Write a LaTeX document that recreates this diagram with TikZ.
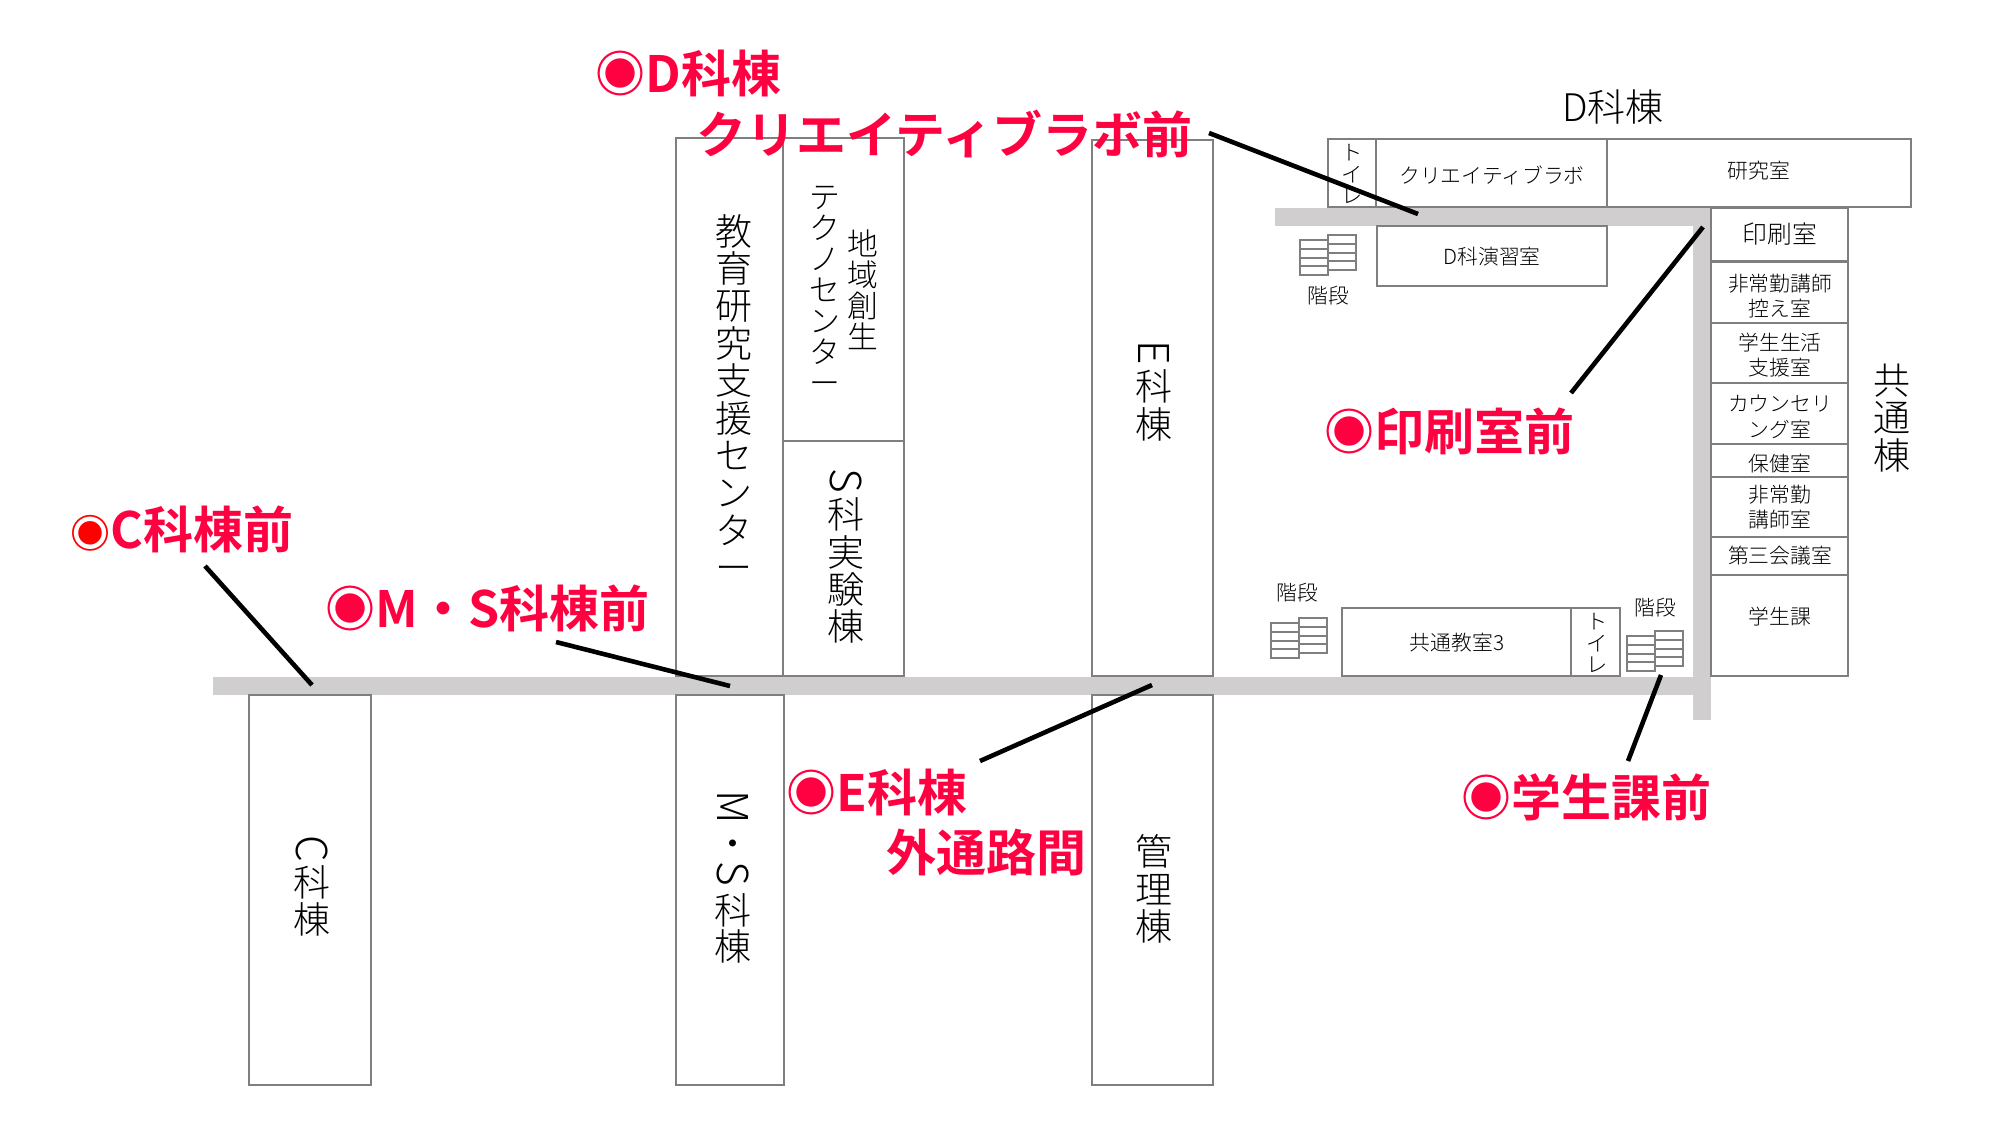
\documentclass[tikz,border=0pt]{standalone}
\usepackage{fontspec}
\setmainfont{Noto Sans CJK JP}[UprightFont=* Light,BoldFont=* Bold]
\usepackage{xcolor}
\usetikzlibrary{positioning}
\definecolor{mapgrey}{HTML}{7F7F7F}
\definecolor{mappath}{HTML}{D0CECE}
\definecolor{mapred}{HTML}{FF0041}
\definecolor{mapink}{HTML}{000000}
\newcommand{\sidew}[1]{\rotatebox[origin=c]{-90}{\scalebox{1.15}{#1}}}
\newcommand{\stackfont}[2]{\fontsize{#1}{#2}\selectfont\setlength{\lineskiplimit}{-20pt}}
\tikzset{
  wall/.style={draw=mapgrey,line width=1pt},
  hall/.style={fill=mappath},
  leader/.style={draw=mapink,line width=2.3pt},
  room/.style={font=\stackfont{10.4}{12.8},align=center},
  bigstack/.style={font=\stackfont{18.5}{18.7},align=center},
  midstack/.style={font=\stackfont{15.4}{15.5},align=center},
  tinystack/.style={font=\stackfont{10.6}{10.8},align=center},
  spot/.style={font=\fontsize{25}{25}\selectfont\bfseries,text=mapred,anchor=west},
  stairs/.pic={
    \foreach \i in {0,...,3} {
      \draw[wall] (0,5+\i*8.75) rectangle (28,13.75+\i*8.75);
      \draw[wall] (28,\i*8.75) rectangle (56,8.75+\i*8.75);
    }
  }
}
\begin{document}
\begin{tikzpicture}[x=0.5pt,y=-0.5pt,every node/.style={inner sep=0pt,text=mapink}]
  \useasboundingbox (0,0) rectangle (2000,1125);
  \fill[white] (0,0) rectangle (2000,1125);

  \fill[hall] (213,677) rectangle (1711,695);
  \fill[hall] (1693,208) rectangle (1711,720);
  \fill[hall] (1275,208) rectangle (1711,226);

  \draw[wall] (676,138) rectangle (783,676);
  \draw[wall] (783,138) rectangle (904,441);
  \draw[wall] (783,441) rectangle (904,676);
  \draw[wall] (1092,140) rectangle (1213,676);
  \draw[wall] (249,695) rectangle (371,1085);
  \draw[wall] (676,695) rectangle (784,1085);
  \draw[wall] (1092,695) rectangle (1213,1085);

  \draw[wall] (1328,139) rectangle (1376,207);
  \draw[wall] (1376,139) rectangle (1607,207);
  \draw[wall] (1607,139) rectangle (1911,207);
  \draw[wall] (1377,226) rectangle (1607,286);
  \draw[wall] (1711,208) rectangle (1848,261);
  \draw[wall] (1711,262) rectangle (1848,323);
  \draw[wall] (1711,323) rectangle (1848,383);
  \draw[wall] (1711,383) rectangle (1848,444);
  \draw[wall] (1711,444) rectangle (1848,477);
  \draw[wall] (1711,477) rectangle (1848,537);
  \draw[wall] (1711,537) rectangle (1848,575);
  \draw[wall] (1711,575) rectangle (1848,676);
  \draw[wall] (1342,608) rectangle (1571,676);
  \draw[wall] (1571,608) rectangle (1620,676);

  \pic at (1300,235) {stairs};
  \pic at (1271,618) {stairs};
  \pic at (1627,631) {stairs};

  \node[bigstack] (kyoiku) at (734,398) {教\\育\\研\\究\\支\\援\\セ\\ン\\タ\\ー};
  \node[midstack] (techno) at (825,290) {テ\\ク\\ノ\\セ\\ン\\タ\\ー};
  \node[midstack] (chiiki) at (863,290) {地\\域\\創\\生};
  \node[bigstack] (sbldg) at (846,556) {\sidew{S}\\[-2.5pt]科\\実\\験\\棟};
  \node[bigstack] (ebldg) at (1154,391) {\sidew{E}\\[-2.5pt]科\\棟};
  \node[bigstack] (cbldg) at (312,886) {\sidew{C}\\[-2.5pt]科\\棟};
  \node[bigstack] (msbldg) at (733,877) {\sidew{M}\\[-1.3pt]・\\[-2.6pt]\sidew{S}\\[-1.3pt]科\\[-0.6pt]棟};
  \node[bigstack] (kanri) at (1154,889) {管\\理\\棟};
  \node[bigstack] (kyotsu) at (1892,418) {共\\通\\棟};
  \node[font=\fontsize{19}{19}\selectfont] (dbldg) at (1613,107) {D科棟};

  \node[tinystack] (toilettop) at (1352,174) {ト\\イ\\レ};
  \node[room] (crlab) at (1492,175) {クリエイティブラボ};
  \node[room] (kenkyu) at (1759,171) {研究室};
  \node[room] (dlab) at (1492,257) {D科演習室};
  \node[font=\fontsize{12.4}{14}\selectfont] (insatsu) at (1780,234) {印刷室};
  \node[room] (hijokin) at (1780,296) {非常勤講師\\控え室};
  \node[room] (gakusei) at (1780,355) {学生生活\\支援室};
  \node[room] (counsel) at (1780,417) {カウンセリ\\ング室};
  \node[room] (hoken) at (1780,464) {保健室};
  \node[room] (koshi) at (1780,507) {非常勤\\講師室};
  \node[room] (kaigi) at (1780,556) {第三会議室};
  \node[room] (gakka) at (1780,617) {学生課};
  \node[room] (kyoshitsu) at (1457,643) {共通教室3};
  \node[tinystack] (toiletlow) at (1597,643) {ト\\イ\\レ};
  \node[room] (kaidan1) at (1328,296) {階段};
  \node[room] (kaidan2) at (1297,593) {階段};
  \node[room] (kaidan3) at (1655,608) {階段};

  \node[spot] (spotd) at (595,73) {◉D科棟};
  \node[spot] (spotdb) at (696,134) {クリエイティブラボ前};
  \node[spot] (spotp) at (1324,431) {◉印刷室前};
  \node[spot] (spotg) at (1461,797) {◉学生課前};
  \node[spot] (spote) at (786,792) {◉E科棟};
  \node[spot] (spoteb) at (886,852) {外通路間};
  \node[spot] (spotms) at (325,608) {◉M・S科棟前};
  \node[spot] (spotc) at (70,529) {{\fontsize{20}{20}\selectfont\textcolor{red}{◉}}C科棟前};

  \coordinate (dfrom) at (1209,133);
  \coordinate (dto) at (1418,214);
  \coordinate (pfrom) at (1571,393);
  \coordinate (pto) at (1703,227);
  \coordinate (gfrom) at (1628,761);
  \coordinate (gto) at (1661,675);
  \coordinate (efrom) at (980,761);
  \coordinate (eto) at (1152,685);
  \coordinate (msfrom) at (556,642);
  \coordinate (msto) at (730,686);
  \coordinate (cfrom) at (205,566);
  \coordinate (cto) at (312,685);

  \draw[leader] (dfrom) -- (dto);
  \draw[leader] (pfrom) -- (pto);
  \draw[leader] (gfrom) -- (gto);
  \draw[leader] (efrom) -- (eto);
  \draw[leader] (msfrom) -- (msto);
  \draw[leader] (cfrom) -- (cto);
\end{tikzpicture}
\end{document}
